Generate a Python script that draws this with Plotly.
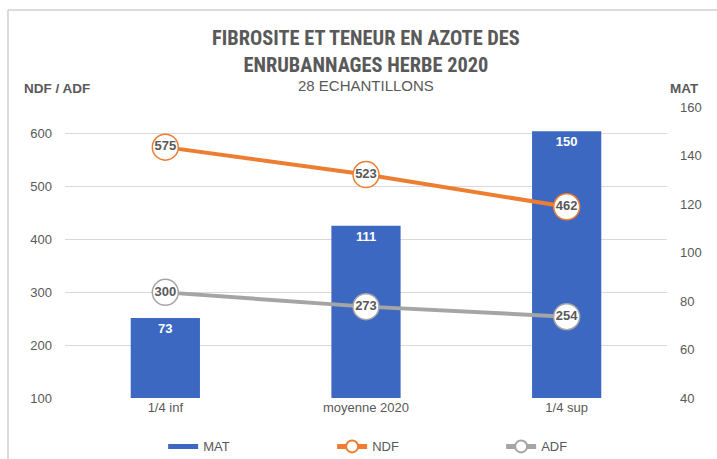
import plotly.graph_objects as go

categories = ["1/4 inf", "moyenne 2020", "1/4 sup"]
mat = [73, 111, 150]
ndf = [575, 523, 462]
adf = [300, 273, 254]

TFONT = "Liberation Sans Narrow, Roboto Condensed, Arial Narrow, Liberation Sans, sans-serif"
FONT = "Liberation Sans, Arial, sans-serif"
GRAY = "#595959"
BLUE = "#3d68c2"

fig = go.Figure()
fig.add_trace(go.Bar(
    x=categories, y=mat, name="MAT", yaxis="y", width=0.345, legendgroup="mat", showlegend=False,
    marker=dict(color=BLUE, line=dict(width=0)),
    text=[str(v) for v in mat], textposition="inside", insidetextanchor="end",
    textfont=dict(color="white", size=13, family=FONT), texttemplate="<b>%{text}</b>",
    cliponaxis=False,
))
# legend proxy for the bar series (wide flat swatch, as in the reference)
fig.add_trace(go.Scatter(
    x=[None], y=[None], name="MAT", yaxis="y", mode="lines", legendgroup="mat",
    line=dict(color=BLUE, width=8),
))
fig.add_trace(go.Scatter(
    x=categories, y=ndf, name="NDF", yaxis="y2", mode="lines+markers+text",
    line=dict(color="#ED7D31", width=4),
    marker=dict(size=26, color="white", line=dict(color="#ED7D31", width=1.5)),
    text=["<b>%d</b>" % v for v in ndf], textposition="middle center",
    textfont=dict(color=GRAY, size=13, family=FONT), cliponaxis=False,
))
fig.add_trace(go.Scatter(
    x=categories, y=adf, name="ADF", yaxis="y2", mode="lines+markers+text",
    line=dict(color="#A5A5A5", width=4),
    marker=dict(size=26, color="white", line=dict(color="#A5A5A5", width=1.5)),
    text=["<b>%d</b>" % v for v in adf], textposition="middle center",
    textfont=dict(color=GRAY, size=13, family=FONT), cliponaxis=False,
))

fig.update_layout(
    width=717, height=459,
    paper_bgcolor="white", plot_bgcolor="white",
    margin=dict(l=65, r=50, t=107, b=61, autoexpand=False),
    font=dict(family=FONT, color=GRAY, size=13),
    showlegend=True,
    legend=dict(orientation="h", x=0.163, xanchor="left", y=-0.115, yanchor="top",
                font=dict(size=13, color=GRAY), itemwidth=30, itemsizing="constant",
                entrywidth=124, entrywidthmode="pixels"),
    xaxis=dict(showgrid=False, showline=False, ticks="", tickfont=dict(size=13, color=GRAY),
               range=[-0.5, 2.5]),
    yaxis=dict(side="right", range=[40, 160], dtick=20, showgrid=False, showline=False,
               ticks="", tickfont=dict(size=13, color=GRAY), zeroline=False, ticklabelstandoff=12),
    yaxis2=dict(side="left", overlaying="y", range=[100, 651], tickvals=[100, 200, 300, 400, 500, 600],
                showgrid=True, gridcolor="#d9d9d9", gridwidth=1, showline=False, ticks="",
                tickfont=dict(size=13, color=GRAY), zeroline=False, ticklabelstandoff=12),
    annotations=[
        dict(text="<b>FIBROSITE ET TENEUR EN AZOTE DES<br>ENRUBANNAGES HERBE 2020</b>",
             xref="paper", yref="paper", x=0.5, y=1.0, yshift=83, xanchor="center", yanchor="top",
             showarrow=False, font=dict(size=20.4, color=GRAY, family=TFONT), align="center"),
        dict(text="28 ECHANTILLONS", xref="paper", yref="paper", x=0.5, y=1.0, yshift=22,
             xanchor="center", yanchor="middle", showarrow=False, font=dict(size=15, color=GRAY)),
        dict(text="<b>NDF / ADF</b>", xref="paper", yref="paper", x=0, xshift=-43, y=1.0, yshift=19,
             xanchor="left", yanchor="middle", showarrow=False, font=dict(size=13.5, color=GRAY)),
        dict(text="<b>MAT</b>", xref="paper", yref="paper", x=1, xshift=1, y=1.0, yshift=19,
             xanchor="left", yanchor="middle", showarrow=False, font=dict(size=13.5, color=GRAY)),
    ],
    shapes=[
        dict(type="line", xref="paper", yref="paper", x0=-0.0947, x1=-0.0947, y0=-1, y1=1.333,
             line=dict(color="#d0d0d0", width=1.5)),
        dict(type="line", xref="paper", yref="paper", x0=-0.0947, x1=1.2, y0=1.333, y1=1.333,
             line=dict(color="#d0d0d0", width=1.5)),
    ],
)

fig.write_html("out.html", config={"displayModeBar": False},
               post_script="document.body.style.margin='0';")
